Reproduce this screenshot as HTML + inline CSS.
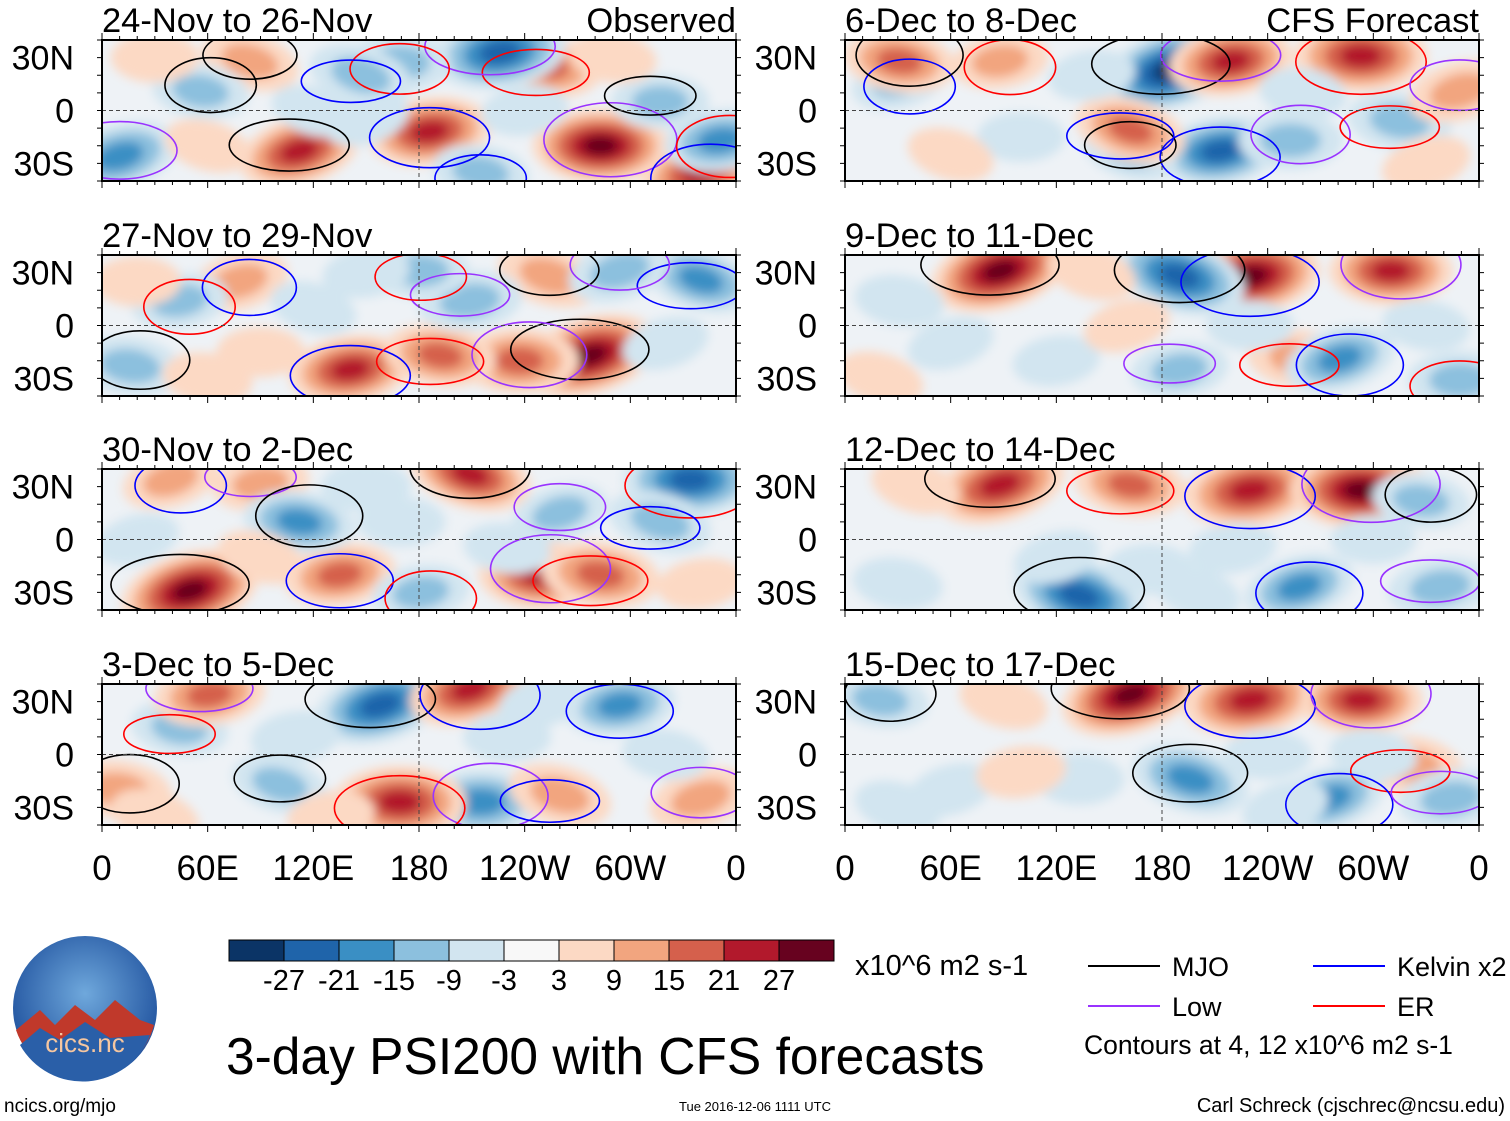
<!DOCTYPE html>
<html><head><meta charset="utf-8">
<style>
html,body{margin:0;padding:0;background:#fff;width:1510px;height:1121px;overflow:hidden;font-family:"Liberation Sans",sans-serif;}
svg{position:absolute;left:0;top:0}
</style></head>
<body>
<svg id="fig" width="1510" height="1121" viewBox="0 0 1510 1121">
<defs>
<filter id="bl" x="-30%" y="-30%" width="160%" height="160%"><feGaussianBlur stdDeviation="5"/></filter>
<radialGradient id="logoG" cx="50%" cy="40%" r="60%"><stop offset="0" stop-color="#6fa8dc"/><stop offset="1" stop-color="#1d4f9c"/></radialGradient>
</defs>
</svg>
<script>
// ---- data ----
const panelTitles = ["24-Nov to 26-Nov","27-Nov to 29-Nov","30-Nov to 2-Dec","3-Dec to 5-Dec","6-Dec to 8-Dec","9-Dec to 11-Dec","12-Dec to 14-Dec","15-Dec to 17-Dec"];
const latTicks = [30,0,-30];
const latTickLabels = ["30N","0","30S"];
const lonTicks = [0,60,120,180,240,300,360];
const lonTickLabels = ["0","60E","120E","180","120W","60W","0"];
const levelValues = [-27,-21,-15,-9,-3,3,9,15,21,27];
const levelColors = ["#0b3466","#1f64aa","#3a8fc4","#8cc0de","#d2e5f0","#f8f8f8","#fcd9c4","#f2a57f","#d5604c","#b2192c","#67021f"];
// anomaly centres: [lon, lat, value]
const blobs0 = [[112,-23,20],[186,-12,20],[283,-20,25],[252,25,15],[84,28,10],[340,-35,20],[226,33,-24],[169,27,-12],[56,11,-9],[147,20,-12],[10,-26,-18],[351,-17,-15],[317,5,-9],[215,-35,-9],[60,-20,5],[150,-5,-5],[240,0,-5],[30,30,5],[290,30,5],[120,0,-4]];
const blobs1 = [[277,-17,27],[141,-25,20],[237,-20,18],[192,-17,15],[254,28,12],[78,25,10],[209,14,-12],[181,31,-9],[16,-23,-12],[340,26,-15],[294,31,-12],[44,14,-9],[90,-15,5],[60,-30,6],[120,10,-5],[320,-10,-5],[150,30,-5],[20,25,5]];
const blobs2 = [[50,-29,27],[135,-20,15],[249,-20,20],[283,-20,18],[209,37,20],[39,34,9],[90,32,9],[334,34,-24],[112,10,-15],[317,10,-12],[260,15,-9],[181,-30,-9],[170,10,-5],[230,-5,-5],[90,-10,5],[20,0,-4],[340,-25,5],[150,30,-6]];
const blobs3 = [[158,28,-24],[294,28,-15],[215,-27,-18],[44,15,-9],[101,-17,-9],[209,37,20],[61,34,15],[169,-27,24],[10,-20,12],[260,-23,12],[340,-25,12],[110,10,-6],[230,10,-5],[320,0,-5],[30,-35,6],[250,30,-6],[130,-35,5]];
const blobs4 = [[185,23,-27],[213,-23,-20],[253,-17,-12],[315,-6,-12],[162,-23,-9],[31,17,-9],[219,28,20],[293,31,24],[31,28,15],[162,-11,15],[349,11,12],[88,28,9],[100,-15,-5],[260,10,-5],[60,-25,5],[330,-30,6],[140,20,-5]];
const blobs5 = [[88,31,27],[230,28,27],[310,31,20],[258,-19,12],[190,28,-24],[281,-19,-15],[190,-25,-9],[349,-31,-12],[31,14,-6],[140,30,6],[60,-10,-5],[120,-20,-5],[230,0,-5],[330,0,-5],[20,-30,5],[160,0,5]];
const blobs6 = [[88,31,24],[230,28,24],[293,28,27],[162,31,15],[133,-32,-24],[258,-27,-15],[338,-27,-12],[173,-17,-6],[327,22,-9],[40,30,6],[120,-10,-5],[220,-5,-5],[300,0,-4],[30,-25,-6],[200,-30,-5]];
const blobs7 = [[162,34,27],[230,31,24],[293,31,20],[321,-6,12],[196,-14,-18],[275,-25,-15],[344,-25,-12],[133,-14,-6],[20,31,-9],[90,30,6],[60,-20,-5],[100,-10,6],[240,0,-5],[300,0,-5],[30,-30,-5],[250,-30,-5]];
const allBlobs = [blobs0,blobs1,blobs2,blobs3,blobs4,blobs5,blobs6,blobs7];
const legendNames = ["MJO","Kelvin x2","Low","ER"];
const legendColors = ["#000","#0000ff","#9933ff","#ff0000"];

const NS="http://www.w3.org/2000/svg";
const svg=document.getElementById('fig');
function mk(tag,attrs,parent){const e=document.createElementNS(NS,tag);for(const k in attrs)e.setAttribute(k,attrs[k]);(parent||svg).appendChild(e);return e;}
const PW=634, PH=141;
const colX=[102,845], rowY=[40,255,469,684];
function xS(px,lon){return px+lon/360*PW;}
function yS(py,lat){return py+PH/2-lat/80*PH;}
function colorFor(v){let i=0;while(i<levelValues.length&&v>levelValues[i])i++;return levelColors[i];}

allBlobs.forEach((bl,p)=>{
  const px=colX[p<4?0:1], py=rowY[p%4];
  const g=mk('g',{});
  
  
  const cid='clip'+p;
  const cp=mk('clipPath',{id:cid},svg.querySelector('defs'));
  mk('rect',{x:px,y:py,width:PW,height:PH},cp);
  mk('rect',{x:px,y:py,width:PW,height:PH,fill:'#eef2f6'},g);
  const f=mk('g',{'clip-path':'url(#'+cid+')',filter:'url(#bl)'},g);
  bl.forEach((b,i)=>{
    const [lon,lat,v]=b; const s=Math.sign(v); const a=Math.abs(v);
    const lv=[3,9,15,21,27].filter(l=>l<=a+2);
    const rot=(i%5-2)*8;
    lv.forEach((l,k)=>{
      const sc=1-k/(lv.length+0.4);
      const e=mk('ellipse',{cx:xS(px,lon),cy:yS(py,lat),rx:(38+a*1.2)*sc,ry:(22+a*0.6)*sc,fill:colorFor(s*(l+1)),transform:'rotate('+rot+' '+xS(px,lon)+' '+yS(py,lat)+')'},f);
      
      
    });
  });
  const lines=mk('g',{'clip-path':'url(#'+cid+')',fill:'none','stroke-width':1.6},g);
  bl.forEach((b,i)=>{
    const [lon,lat,v]=b; const a=Math.abs(v);
    if(a<9)return;
    const c=legendColors[i%4];
    const e=mk('ellipse',{cx:xS(px,lon)+(i%3-1)*10,cy:yS(py,lat)+(i%2?6:-6),rx:34+a*1.3,ry:14+a*0.6+(i%3)*4,stroke:c},lines);
    
    
  });
  mk('line',{x1:px,x2:px+PW,y1:yS(py,0),y2:yS(py,0),stroke:'#444','stroke-dasharray':'4 3','stroke-width':1},g);
  mk('line',{x1:xS(px,180),x2:xS(px,180),y1:py,y2:py+PH,stroke:'#444','stroke-dasharray':'4 3','stroke-width':1},g);
  mk('rect',{x:px,y:py,width:PW,height:PH,fill:'none',stroke:'#000','stroke-width':2},g);
  for(let lon=0;lon<=360;lon+=10){const L=lon%60?4:7;mk('line',{x1:xS(px,lon),x2:xS(px,lon),y1:py,y2:py-L,stroke:'#000'},g);mk('line',{x1:xS(px,lon),x2:xS(px,lon),y1:py+PH,y2:py+PH+L,stroke:'#000'},g);}
  for(let lat=-40;lat<=40;lat+=10){mk('line',{x1:px,x2:px-5,y1:yS(py,lat),y2:yS(py,lat),stroke:'#000'},g);mk('line',{x1:px+PW,x2:px+PW+5,y1:yS(py,lat),y2:yS(py,lat),stroke:'#000'},g);}
  const t=mk('text',{x:px,y:py-8,'font-size':34.5},g);t.textContent=panelTitles[p];
  
  
  latTicks.forEach((lat,k)=>{const tt=mk('text',{x:px-28,y:yS(py,lat)+12,'font-size':34,'text-anchor':'end'},g);tt.textContent=latTickLabels[k];
    
    });
});
[[736,'Observed'],[1479,'CFS Forecast']].forEach(([x,s])=>{const t=mk('text',{x:x,y:32,'font-size':34.5,'text-anchor':'end'});t.textContent=s;
  
  });
colX.forEach(px=>lonTicks.forEach((lon,k)=>{const t=mk('text',{x:xS(px,lon),y:880,'font-size':35,'text-anchor':'middle'});t.textContent=lonTickLabels[k];
  
  }));
// colorbar
const cb=mk('g',{});


levelColors.forEach((c,i)=>mk('rect',{x:229+i*55,y:940,width:55,height:21,fill:c,stroke:'#000','stroke-width':1},cb));
levelValues.forEach((v,i)=>{const t=mk('text',{x:284+i*55,y:990,'font-size':29,'text-anchor':'middle'},cb);t.textContent=v;});
const u=mk('text',{x:855,y:975,'font-size':29});u.textContent='x10^6 m2 s-1';


// legend
const lg=mk('g',{});


[[1088,966],[1313,966],[1088,1006],[1313,1006]].forEach(([x,y],i)=>{mk('line',{x1:x,x2:x+72,y1:y,y2:y,stroke:legendColors[i],'stroke-width':2},lg);const t=mk('text',{x:x+84,y:y+10,'font-size':27},lg);t.textContent=legendNames[i];});
const ct=mk('text',{x:1084,y:1054,'font-size':26.5},lg);ct.textContent='Contours at 4, 12 x10^6 m2 s-1';
const tt=mk('text',{x:226,y:1074,'font-size':51.5});tt.textContent='3-day PSI200 with CFS forecasts';


const f1=mk('text',{x:4,y:1112,'font-size':19});f1.textContent='ncics.org/mjo';


const f2=mk('text',{x:755,y:1111,'font-size':13,'text-anchor':'middle'});f2.textContent='Tue 2016-12-06 1111 UTC';


const f3=mk('text',{x:1505,y:1112,'font-size':20,'text-anchor':'end'});f3.textContent='Carl Schreck (cjschrec@ncsu.edu)';


// logo
const lo=mk('g',{});


mk('circle',{cx:85,cy:1008,r:72,fill:'url(#logoG)'},lo);
mk('path',{d:'M16 1030 L40 1010 L55 1025 L75 1005 L95 1020 L115 1000 L140 1020 L154 1025 A72 72 0 0 1 16 1030 Z',fill:'#c0392b'},lo);
mk('path',{d:'M20 1045 L40 1028 L60 1040 L85 1022 L110 1038 L150 1035 A72 72 0 0 1 20 1045 Z',fill:'#2a5fa8'},lo);
const lt=mk('text',{x:85,y:1052,'font-size':26,'text-anchor':'middle',fill:'#f5c6a0'},lo);lt.textContent='cics.nc';
</script>
</body></html>
